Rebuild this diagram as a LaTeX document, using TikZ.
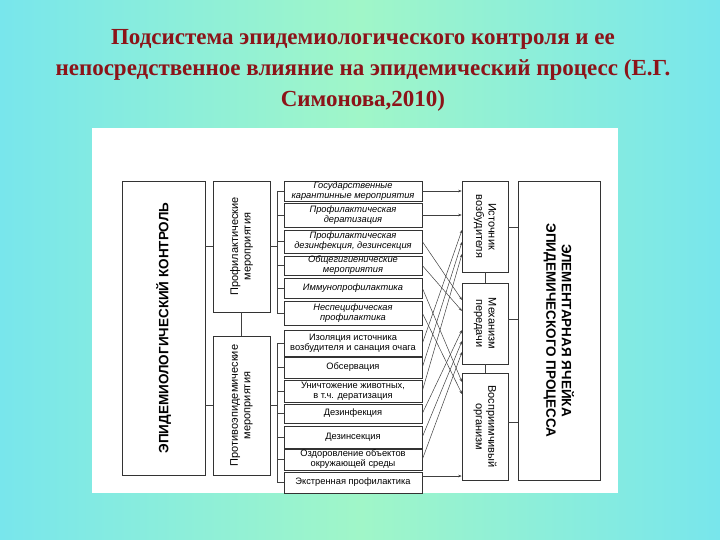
\documentclass[tikz,border=0pt]{standalone}
\usepackage{fontspec}
\setmainfont{Liberation Serif}
\setsansfont{Liberation Sans}
\usetikzlibrary{arrows.meta}
\definecolor{cy}{RGB}{120,230,236}
\definecolor{gr}{RGB}{160,246,200}
\definecolor{tred}{RGB}{140,20,25}
\begin{document}
\begin{tikzpicture}[x=1pt,y=-1pt,
  bx/.style={draw=black!80,line width=0.6pt,fill=white,inner sep=0pt,font=\sffamily,align=center},
  mb/.style={bx,minimum width=138pt,font=\sffamily\fontsize{9.3}{10}\selectfont},
  rt/.style={align=center,font=\sffamily\fontsize{11}{12.5}\selectfont},
  bt/.style={align=center,font=\sffamily\bfseries\fontsize{13.5}{15.5}\selectfont},
  ln/.style={draw=black!75,line width=0.5pt},
  ar/.style={ln,-{Stealth[length=3.5pt,width=2.5pt]}}]
\useasboundingbox (0,0) rectangle (720,540);
\shade[left color=cy,right color=gr] (0,0) rectangle (360,540);
\shade[left color=gr,right color=cy] (360,0) rectangle (720,540);
\fill[white] (92,128) rectangle (618,493);
\node[font=\bfseries\fontsize{23}{31}\selectfont,text=tred,align=center] (title) at (363,70)
 {Подсистема эпидемиологического контроля и ее\\непосредственное влияние на эпидемический процесс (Е.Г.\\Симонова,2010)};
% left blocks
\node[bx,minimum width=83pt,minimum height=294pt] (ek) at (163.5,328) {};
\node[rotate=90,bt] (ekt) at (ek.center) {ЭПИДЕМИОЛОГИЧЕСКИЙ КОНТРОЛЬ};
\node[bx,minimum width=57pt,minimum height=131pt] (pm) at (241.5,246.5) {};
\node[rotate=90,rt] (pmt) at (pm.center) {Профилактические\\мероприятия};
\node[bx,minimum width=57pt,minimum height=139pt] (pe) at (241.5,405.5) {};
\node[rotate=90,rt] (pet) at (pe.center) {Противоэпидемические\\мероприятия};
\draw[ln] (ek.east |- pm.center) -- (pm.west);
\draw[ln] (ek.east |- pe.center) -- (pe.west);
\draw[ln] (pm.south) -- (pe.north);
% middle boxes
\begin{scope}[every node/.append style={mb}]
\node[minimum height=20pt] (m1) at (353,191) {\itshape Государственные\\\itshape карантинные мероприятия};
\node[minimum height=24pt] (m2) at (353,215) {\itshape Профилактическая\\\itshape дератизация};
\node[minimum height=23pt] (m3) at (353,241.5) {\itshape Профилактическая\\\itshape дезинфекция, дезинсекция};
\node[minimum height=19pt] (m4) at (353,265.5) {\itshape Общегигиенические\\\itshape мероприятия};
\node[minimum height=20pt] (m5) at (353,288) {\itshape Иммунопрофилактика};
\node[minimum height=24pt] (m6) at (353,313) {\itshape Неспецифическая\\\itshape профилактика};
\node[minimum height=26pt] (m7) at (353,343.5) {Изоляция источника\\возбудителя и санация очага};
\node[minimum height=21pt] (m8) at (353,367.5) {Обсервация};
\node[minimum height=22pt] (m9) at (353,391) {Уничтожение животных,\\в т.ч. дератизация};
\node[minimum height=19pt] (m10) at (353,413.5) {Дезинфекция};
\node[minimum height=22pt] (m11) at (353,437) {Дезинсекция};
\node[minimum height=21pt] (m12) at (353,459.5) {Оздоровление объектов\\окружающей среды};
\node[minimum height=21pt] (m13) at (353,482.5) {Экстренная профилактика};
\end{scope}
\coordinate (b1) at (277,191); \coordinate (b2) at (277,313);
\coordinate (b3) at (277,343.5); \coordinate (b4) at (277,482.5);
\draw[ln] (b1) -- (b2); \draw[ln] (b3) -- (b4);
\draw[ln] (pm.east) -- (pm.east -| b1);
\draw[ln] (pe.east) -- (pe.east -| b3);
\foreach \i in {1,...,6}{\draw[ln] (m\i.west -| b1) -- (m\i.west);}
\foreach \i in {7,...,13}{\draw[ln] (m\i.west -| b3) -- (m\i.west);}
% right blocks
\node[bx,minimum width=46pt,minimum height=91pt] (r1) at (485,226.5) {};
\node[rotate=-90,rt] (r1t) at (r1.center) {Источник\\возбудителя};
\node[bx,minimum width=46pt,minimum height=81pt] (r2) at (485,323.5) {};
\node[rotate=-90,rt] (r2t) at (r2.center) {Механизм\\передачи};
\node[bx,minimum width=46pt,minimum height=107pt] (r3) at (485,426.5) {};
\node[rotate=-90,rt] (r3t) at (r3.center) {Восприимчивый\\организм};
\draw[ln] (r1.south) -- (r2.north);
\draw[ln] (r2.south) -- (r3.north);
\node[bx,minimum width=82pt,minimum height=299pt] (ey) at (559,330.5) {};
\node[rotate=-90,bt] (eyt) at (ey.center) {ЭЛЕМЕНТАРНАЯ ЯЧЕЙКА\\ЭПИДЕМИЧЕСКОГО ПРОЦЕССА};
\draw[ln] (r1.east |- 0,227) -- (ey.west |- 0,227);
\draw[ln] (r2.east |- 0,319) -- (ey.west |- 0,319);
\draw[ln] (r3.east |- 0,422) -- (ey.west |- 0,422);
% arrows
\draw[ar] (m1.east) -- (r1.west |- m1.east);
\draw[ar] (m2.east) -- (r1.west |- m2.east);
\coordinate (t7) at (462,230); \coordinate (t8) at (462,242); \coordinate (t9) at (462,254);
\coordinate (t3) at (462,300); \coordinate (t4) at (462,311);
\coordinate (t10) at (462,330); \coordinate (t11) at (462,341); \coordinate (t12) at (462,352);
\coordinate (t5) at (462,382); \coordinate (t6) at (462,394);
\foreach \i in {3,...,12}{\draw[ar] (m\i.east) -- (t\i);}
\draw[ar] (m13.east |- 0,476) -- (r3.west |- 0,476);
\end{tikzpicture}
\end{document}
